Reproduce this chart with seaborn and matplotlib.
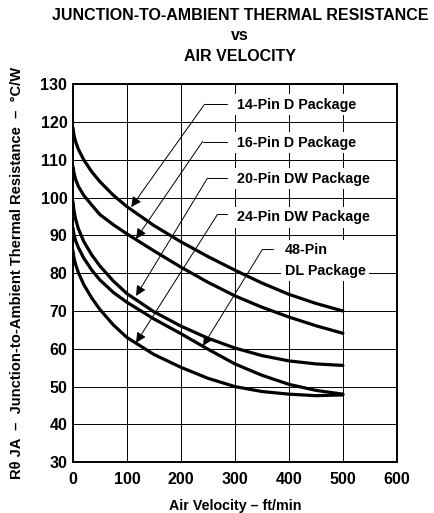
import seaborn as sns
import pandas as pd
import matplotlib.pyplot as plt

# values
air_velocity = [0, 2, 5, 10, 20, 35, 50, 75, 100, 150, 200, 250, 300, 350, 400, 450, 500]
rja_14pin_d = [118.5, 116.5, 114.8, 112.8, 110.0, 106.8, 104.2, 100.6, 97.6, 92.6, 88.3, 84.4, 80.8, 77.4, 74.4, 72.0, 70.0]
rja_16pin_d = [108.3, 106.5, 104.8, 103.0, 100.6, 98.0, 95.5, 92.8, 90.4, 85.9, 81.6, 77.6, 74.0, 71.0, 68.4, 66.1, 64.1]
rja_20pin_dw = [99.0, 96.5, 94.3, 91.8, 88.4, 84.8, 81.9, 77.9, 74.6, 69.8, 66.0, 62.8, 60.2, 58.2, 56.8, 56.0, 55.6]
rja_48pin_dl = [92.0, 90.2, 88.6, 86.8, 84.0, 80.8, 78.2, 74.9, 72.3, 67.9, 64.0, 59.9, 56.0, 53.0, 50.6, 49.0, 48.0]
rja_24pin_dw = [86.0, 84.0, 82.3, 80.2, 77.0, 73.4, 70.4, 66.3, 63.0, 58.5, 55.1, 52.2, 50.0, 48.7, 48.0, 47.6, 47.8]

labels = ["14-Pin D Package", "16-Pin D Package", "20-Pin DW Package",
          "24-Pin DW Package", "48-Pin\nDL Package"]
x_ticks = [0, 100, 200, 300, 400, 500, 600]
y_ticks = [30, 40, 50, 60, 70, 80, 90, 100, 110, 120, 130]

curves = {
    "14-Pin D": rja_14pin_d,
    "16-Pin D": rja_16pin_d,
    "20-Pin DW": rja_20pin_dw,
    "24-Pin DW": rja_24pin_dw,
    "48-Pin DL": rja_48pin_dl,
}
df = pd.concat([pd.DataFrame({"velocity": air_velocity, "rja": v, "package": k})
                for k, v in curves.items()], ignore_index=True)

sns.set_style("white")
plt.rcParams['font.family'] = ['Liberation Sans', 'DejaVu Sans']
plt.rcParams['font.weight'] = 'bold'
for key in ['text.color', 'axes.labelcolor', 'xtick.color', 'ytick.color']:
    plt.rcParams[key] = 'black'

fig = plt.figure(figsize=(4.34, 5.13), dpi=100)
ax = fig.add_axes([0.168, 0.099, 0.7465, 0.737])

sns.lineplot(data=df, x="velocity", y="rja", units="package", estimator=None,
             color="black", lw=2.3, ax=ax, zorder=3)

ax.set_xlim(0, 600)
ax.set_ylim(30, 130)
ax.set_xticks(x_ticks)
ax.set_yticks(y_ticks)
ax.tick_params(length=0, labelsize=11.5)
ax.tick_params(axis='x', pad=7)
ax.tick_params(axis='y', pad=4)
for t in ax.get_xticklabels() + ax.get_yticklabels():
    t.set_fontweight('bold')
ax.grid(True, color="black", lw=0.7, zorder=0)
ax.set_axisbelow(True)
for s in ax.spines.values():
    s.set_color("black")
    s.set_linewidth(1.4)

ax.set_xlabel("Air Velocity – ft/min", fontsize=10.3, fontweight='bold', labelpad=9)
ax.set_ylabel("Rθ JA  –  Junction-to-Ambient Thermal Resistance  –  °C/W",
              fontsize=10.6, fontweight='bold', labelpad=12)

fig.text(0.553, 0.969, "JUNCTION-TO-AMBIENT THERMAL RESISTANCE", ha="center",
         va="center", fontsize=11.5, fontweight='bold')
fig.text(0.553, 0.930, "vs", ha="center", va="center", fontsize=11.5, fontweight='bold')
fig.text(0.553, 0.889, "AIR VELOCITY", ha="center", va="center", fontsize=11.5,
         fontweight='bold')

# callouts: (tip x, tip y), (elbow x, elbow y), line end x, text x, text y
callouts = [
    ((108, 97.5), (244, 124.7), 285, 303, 124.5),
    ((117, 89.1), (240, 114.8), 285, 303, 114.5),
    ((117, 74.0), (249, 105.1), 285, 303, 105.0),
    ((117, 61.6), (268, 95.6), 285, 303, 94.8),
    ((241, 60.8), (351, 86.3), 370, 392, 83.4),
]
for label, (tip, elbow, end_x, tx, ty) in zip(labels, callouts):
    ax.annotate("", xy=tip, xytext=elbow,
                arrowprops=dict(arrowstyle="-|>", color="black", lw=0.7,
                                mutation_scale=15, shrinkA=0, shrinkB=0),
                zorder=5)
    ax.plot([elbow[0], end_x], [elbow[1], elbow[1]], color="black", lw=0.7, zorder=5)
    ax.text(tx, ty, label, ha="left", va="center", fontsize=10.3, fontweight='bold',
            linespacing=1.6, zorder=4,
            bbox=dict(facecolor="white", edgecolor="none", pad=2.5))

fig.savefig("out.png", dpi=100)
